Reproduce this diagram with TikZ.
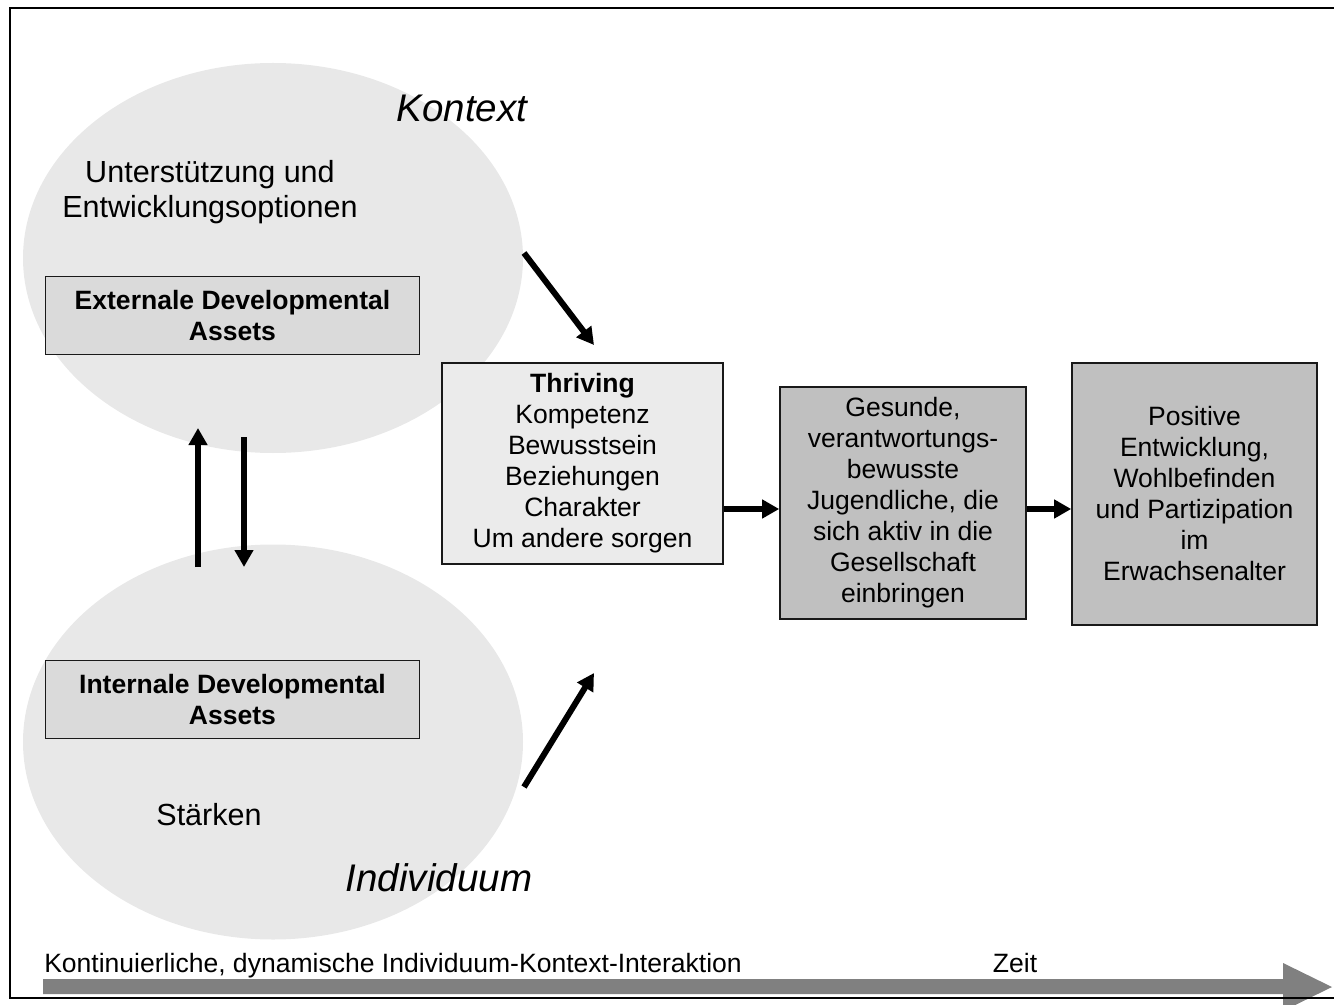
\documentclass[tikz,border=0pt]{standalone}
\usepackage{fontspec}
\setmainfont{Liberation Sans}
\usetikzlibrary{arrows.meta,shapes.geometric}
\definecolor{ellgray}{RGB}{232,232,232}
\definecolor{assetgray}{RGB}{218,218,218}
\definecolor{thrgray}{RGB}{235,235,235}
\definecolor{outgray}{RGB}{192,192,192}
\definecolor{timegray}{RGB}{128,128,128}
\newcommand{\bodyfont}{\fontsize{19.9pt}{23.25pt}\selectfont}
\newcommand{\largefont}{\fontsize{22.9pt}{26.25pt}\selectfont}
\newcommand{\titlefont}{\fontsize{28.9pt}{33pt}\selectfont\itshape}
\begin{document}
\begin{tikzpicture}[x=0.75pt,y=-0.75pt,
  blob/.style={ellipse, fill=ellgray, inner sep=0pt, minimum width=375pt},
  boxbase/.style={draw=black!90, line width=1.2pt, align=center, inner sep=0pt, font=\bodyfont},
  assetbox/.style={boxbase, fill=assetgray, minimum width=280.5pt, minimum height=58.5pt, font=\bodyfont\bfseries},
  thrbox/.style={boxbase, fill=thrgray},
  outbox/.style={boxbase, fill=outgray},
  flow/.style={line width=4.5pt, -{Triangle[length=12.75pt,width=13.5pt]}},
]
\useasboundingbox (0,0) rectangle (1334,1005);
\clip (0,0) rectangle (1334,1005);

% background ellipses
\node[blob, minimum height=292.5pt] (ctx) at (273,258) {};
\node[blob, minimum height=296.25pt] (ind) at (273,742) {};

% texts in ellipses
\node[font=\largefont, align=center] (support) at (210,192) {Unterstützung und\\Entwicklungsoptionen};
\node[font=\titlefont, anchor=base] (kontext) at (462,122) {Kontext};
\node[font=\titlefont, anchor=base] (indiv) at (439,891) {Individuum};
\node[font=\largefont, anchor=base] (staerken) at (209,825) {Stärken};

% asset boxes
\node[assetbox] (ext) at (232.5,315.5) {Externale Developmental\\Assets};
\node[assetbox] (int) at (232.5,699.5) {Internale Developmental\\Assets};

% flow boxes
\node[thrbox, minimum width=210.75pt, minimum height=150.75pt] (thr) at (582.5,463.5)
  {\textbf{Thriving}\\Kompetenz\\Bewusstsein\\Beziehungen\\Charakter\\Um andere sorgen};
\node[outbox, minimum width=184.5pt, minimum height=174pt] (ges) at (903,503)
  {Gesunde,\\verantwortungs-\\bewusste\\Jugendliche, die\\sich aktiv in die\\Gesellschaft\\einbringen};
\node[outbox, minimum width=183.75pt, minimum height=196.5pt] (pos) at (1194.5,494)
  {Positive\\Entwicklung,\\Wohlbefinden\\und Partizipation\\im\\Erwachsenalter};

% connectors
\coordinate (lvl) at (0,509);
\draw[flow] (thr.east |- lvl) -- (ges.west |- lvl);
\draw[flow] (ges.east |- lvl) -- (pos.west |- lvl);

\coordinate (upS) at (198,567);
\coordinate (upE) at (198,428);
\coordinate (dnS) at (244,437);
\coordinate (dnE) at (244,567);
\draw[flow] (upS) -- (upE);
\draw[flow] (dnS) -- (dnE);

\coordinate (d1S) at (524,253);
\coordinate (d1E) at (594,345);
\coordinate (d2S) at (524,787);
\coordinate (d2E) at (594,673);
\draw[flow] (d1S) -- (d1E);
\draw[flow] (d2S) -- (d2E);

% time arrow
\fill[timegray] (43,979) -- (1283,979) -- (1283,963) -- (1332,987) -- (1283,1011) -- (1283,994) -- (43,994) -- cycle;
\node[font=\bodyfont, anchor=base west, inner sep=0pt] (interakt) at (44,972) {Kontinuierliche, dynamische Individuum-Kontext-Interaktion};
\node[font=\bodyfont, anchor=base, inner sep=0pt] (zeit) at (1015,972) {Zeit};

% frame
\draw[line width=1.5pt] (10,8) rectangle (1360,998);
\end{tikzpicture}
\end{document}
